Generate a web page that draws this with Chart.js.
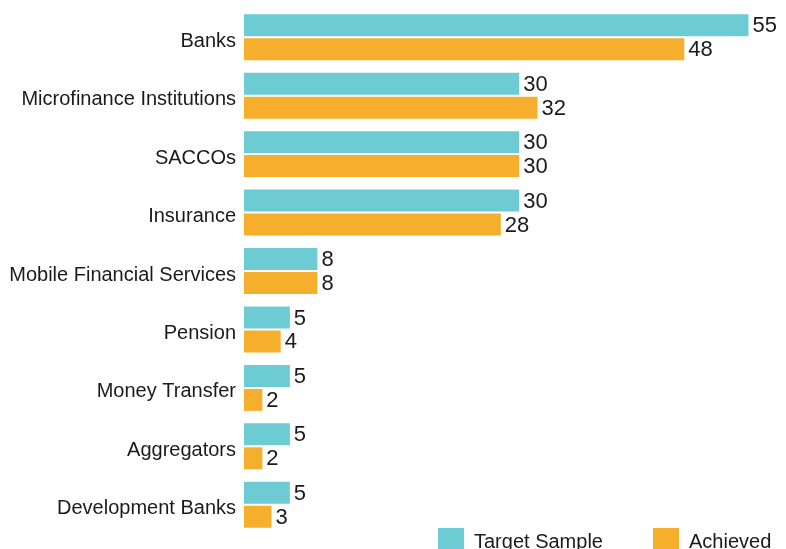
<!DOCTYPE html>
<html>
<head>
<meta charset="utf-8">
<script src="https://cdn.jsdelivr.net/npm/chart.js@4"></script>
<style>
  html, body { margin: 0; padding: 0; background: #fff; overflow: hidden; }
  #wrap { width: 786px; height: 549px; }
</style>
</head>
<body>
<div id="wrap"><canvas id="chart" width="786" height="549"></canvas></div>
<script>
const categories = [
    'Banks', 'Microfinance Institutions', 'SACCOs', 'Insurance',
    'Mobile Financial Services', 'Pension', 'Money Transfer',
    'Aggregators', 'Development Banks'
]
const targetSample = [55, 30, 30, 30, 8, 5, 5, 5, 5]
const achieved     = [48, 32, 30, 28, 8, 4, 2, 2, 3]

const TEAL   = '#6ccbd3'
const ORANGE = '#f6ae2d'
const FONT   = '"Liberation Sans", Arial, sans-serif'

// values next to bar ends
const valueLabels = {
    id: 'valueLabels',
    afterDatasetsDraw(chart) {
        const ctx = chart.ctx
        ctx.save()
        ctx.font = `22px ${FONT}`
        ctx.fillStyle = '#1a1a1a'
        ctx.textAlign = 'left'
        ctx.textBaseline = 'middle'
        chart.data.datasets.forEach((ds, i) => {
            const meta = chart.getDatasetMeta(i)
            meta.data.forEach((bar, j) => {
                ctx.fillText(String(ds.data[j]), bar.x + 4, bar.y + 1)
            })
        })
        ctx.restore()
    }
}

// legend at the bottom right, partly cut by the window edge
const bottomLegend = {
    id: 'bottomLegend',
    afterDraw(chart) {
        const ctx = chart.ctx
        const items = [
            {x: 438, ds: chart.data.datasets[0]},
            {x: 653, ds: chart.data.datasets[1]}
        ]
        ctx.save()
        ctx.font = `20px ${FONT}`
        ctx.textBaseline = 'alphabetic'
        for (const it of items) {
            ctx.fillStyle = it.ds.backgroundColor
            ctx.fillRect(it.x, 528, 26, 26)
            ctx.fillStyle = '#1a1a1a'
            ctx.fillText(it.ds.label, it.x + 36, 548)
        }
        ctx.restore()
    }
}

new Chart(document.getElementById('chart').getContext('2d'), {
    type: 'bar',
    data: {
        labels: categories,
        datasets: [{
            label: 'Target Sample',
            data: targetSample,
            backgroundColor: TEAL,
            categoryPercentage: 0.82,
            barPercentage: 0.917
        }, {
            label: 'Achieved',
            data: achieved,
            backgroundColor: ORANGE,
            categoryPercentage: 0.82,
            barPercentage: 0.917
        }]
    },
    options: {
        indexAxis: 'y',
        responsive: false,
        animation: false,
        layout: {
            padding: {top: 8, bottom: 15, left: 0, right: 10}
        },
        scales: {
            x: {
                display: false,
                min: 0,
                max: 58
            },
            y: {
                grid: {display: false},
                border: {display: false},
                ticks: {
                    color: '#1a1a1a',
                    padding: 0,
                    labelOffset: 4,
                    font: {family: FONT, size: 20}
                },
                afterFit(scale) {
                    scale.width = 244
                    scale.paddingTop = 0
                    scale.paddingBottom = 0
                }
            }
        },
        plugins: {
            legend: {display: false},
            tooltip: {enabled: false}
        }
    },
    plugins: [valueLabels, bottomLegend]
})
</script>
</body>
</html>
